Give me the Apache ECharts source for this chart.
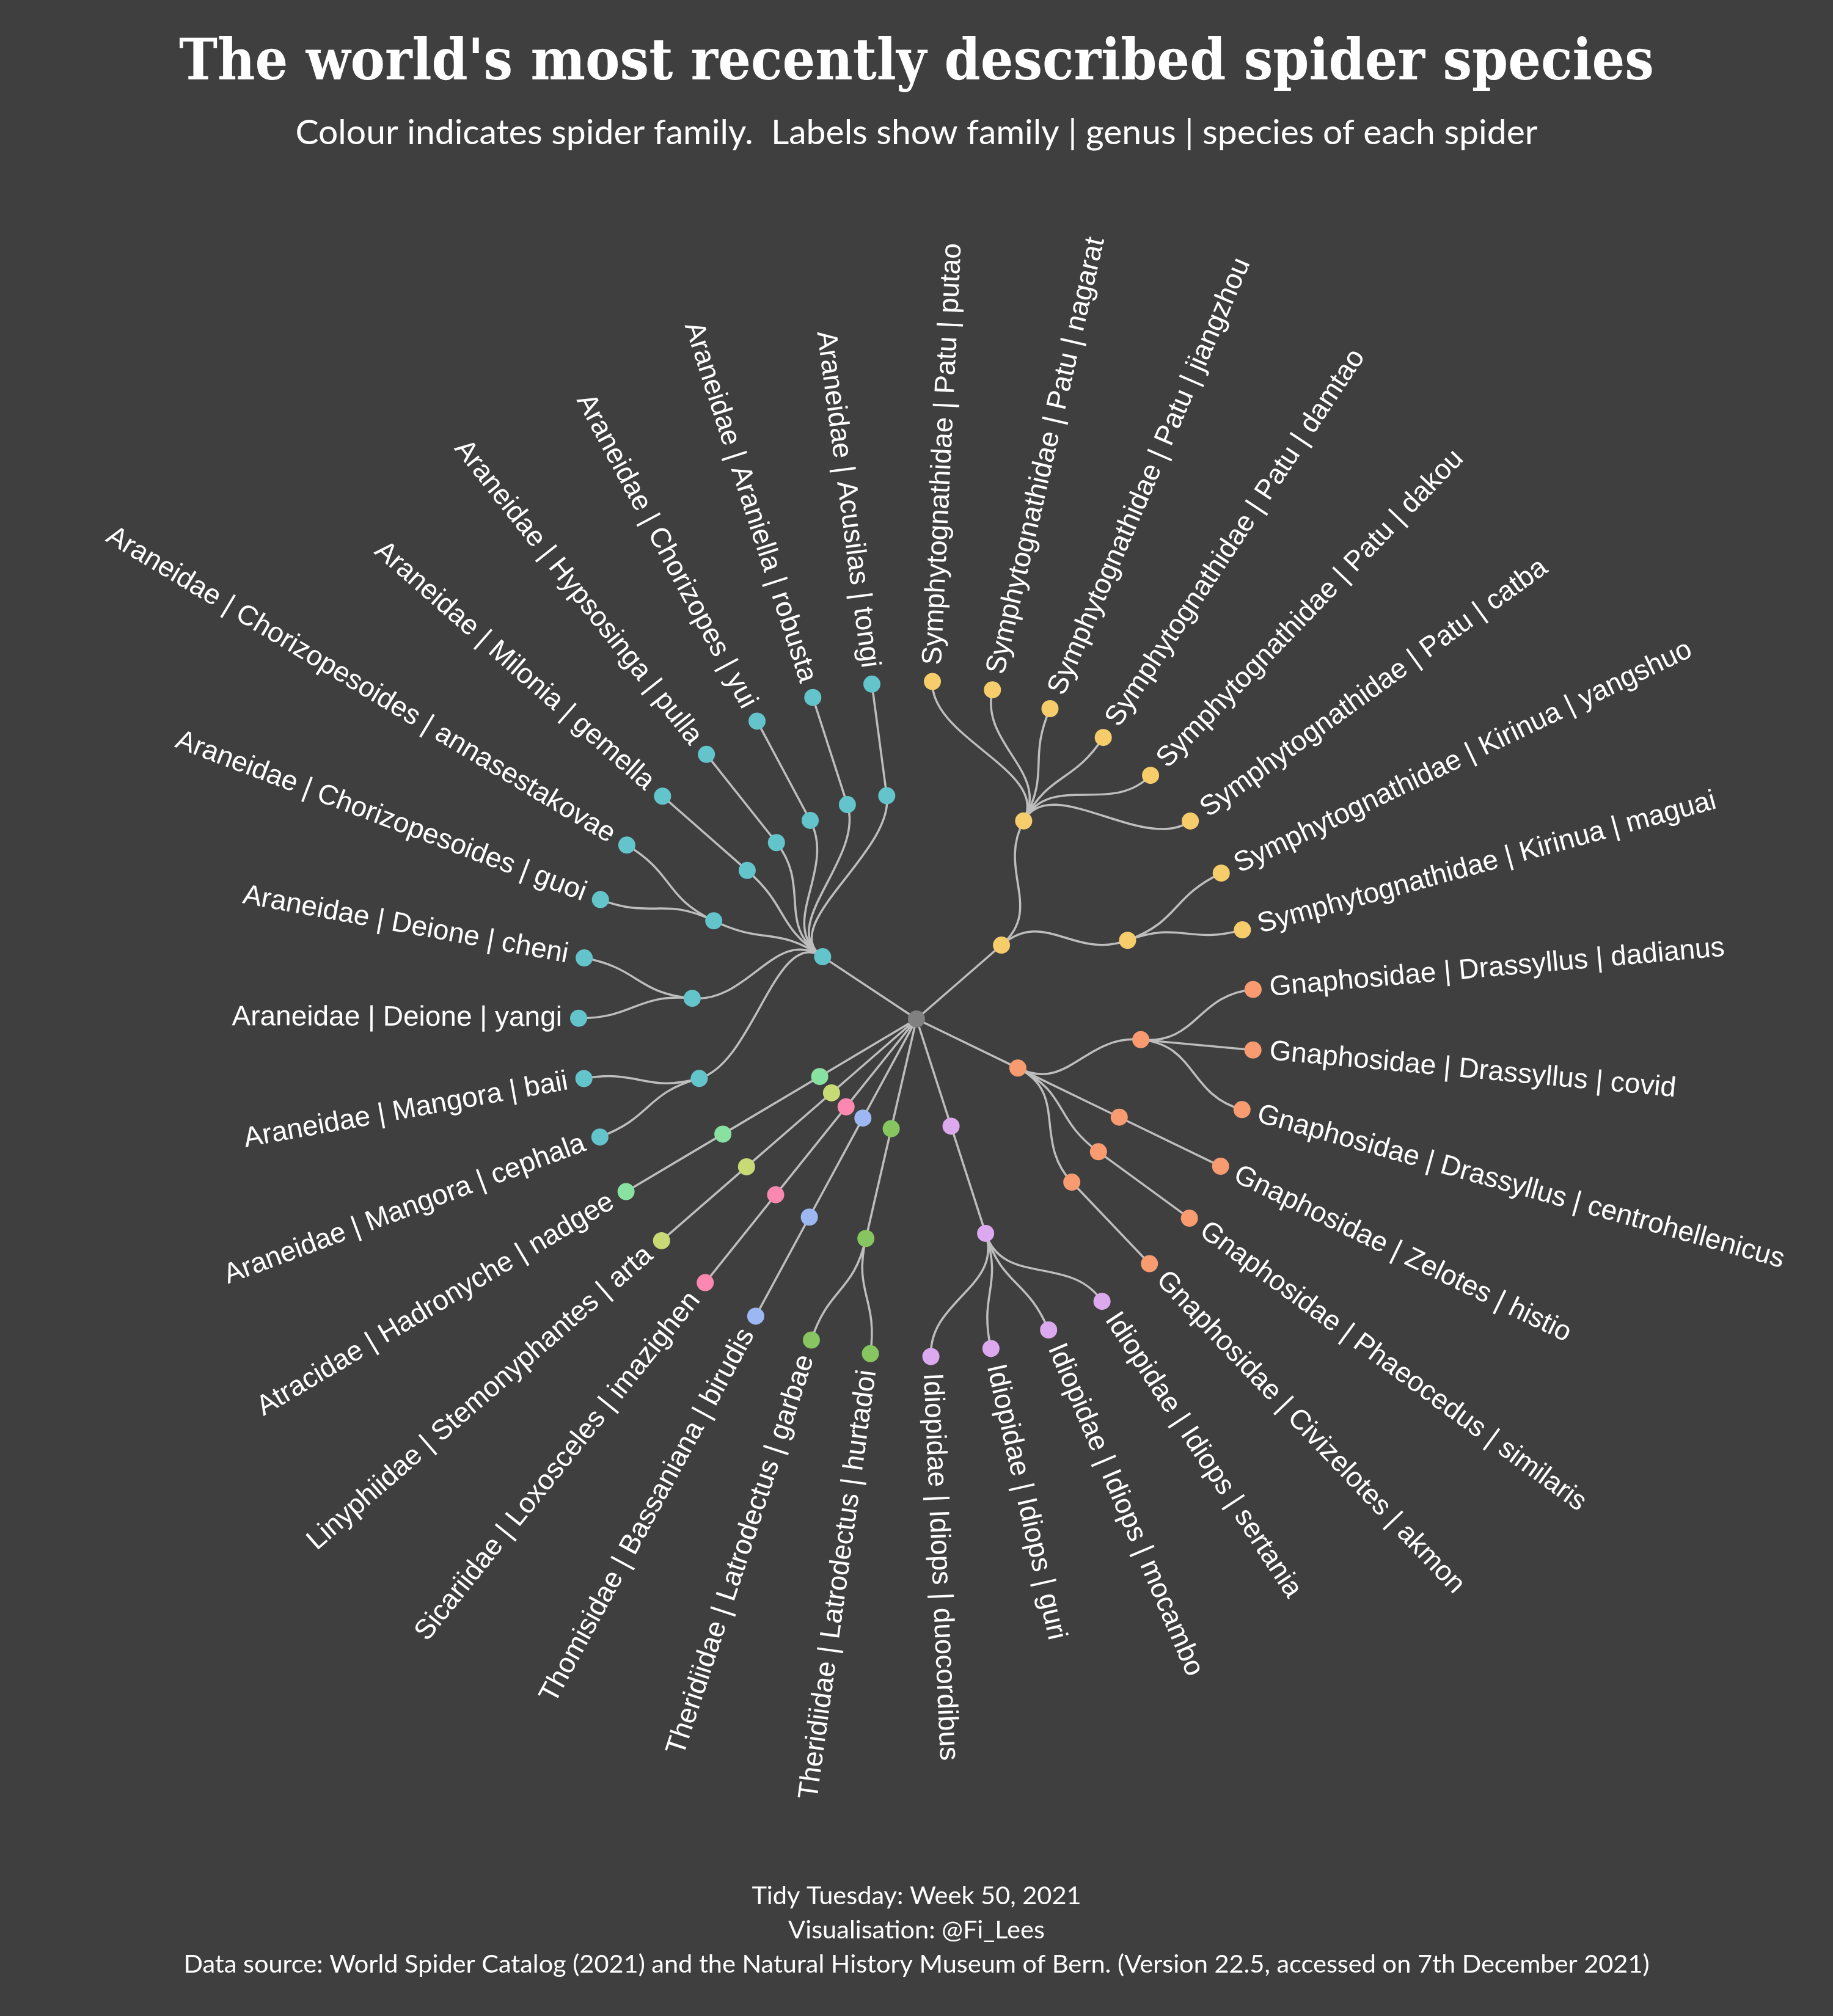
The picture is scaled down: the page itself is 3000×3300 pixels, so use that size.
<!DOCTYPE html>
<html>
<head>
<meta charset="utf-8">
<title>The world's most recently described spider species</title>
<script src="https://cdn.jsdelivr.net/npm/echarts@6/dist/echarts.min.js"></script>
<style>
html, body { margin: 0; padding: 0; background: #3f3f3f; }
#chart { width: 3000px; height: 3300px; }
</style>
</head>
<body>
<div id="chart"></div>
<script>
// families in the order they sit round the circle, with their colours
var families = ['Symphytognathidae', 'Gnaphosidae', 'Idiopidae', 'Theridiidae', 'Thomisidae',
	'Sicariidae', 'Linyphiidae', 'Atracidae', 'Araneidae']
var family_colours = ['#f6cd6a', '#f89b70', '#dca8ee', '#86c55f', '#9db7f2',
	'#fb88b0', '#c8da76', '#88e0a1', '#63c4cc']

// one entry per spider, clockwise from the top
var leaf_family = [
	'Symphytognathidae', 'Symphytognathidae', 'Symphytognathidae', 'Symphytognathidae',
	'Symphytognathidae', 'Symphytognathidae', 'Symphytognathidae', 'Symphytognathidae',
	'Gnaphosidae', 'Gnaphosidae', 'Gnaphosidae', 'Gnaphosidae', 'Gnaphosidae', 'Gnaphosidae',
	'Idiopidae', 'Idiopidae', 'Idiopidae', 'Idiopidae',
	'Theridiidae', 'Theridiidae', 'Thomisidae', 'Sicariidae', 'Linyphiidae', 'Atracidae',
	'Araneidae', 'Araneidae', 'Araneidae', 'Araneidae', 'Araneidae', 'Araneidae',
	'Araneidae', 'Araneidae', 'Araneidae', 'Araneidae', 'Araneidae'
]
var leaf_genus = [
	'Patu', 'Patu', 'Patu', 'Patu', 'Patu', 'Patu', 'Kirinua', 'Kirinua',
	'Drassyllus', 'Drassyllus', 'Drassyllus', 'Zelotes', 'Phaeocedus', 'Civizelotes',
	'Idiops', 'Idiops', 'Idiops', 'Idiops',
	'Latrodectus', 'Latrodectus', 'Bassaniana', 'Loxosceles', 'Stemonyphantes', 'Hadronyche',
	'Mangora', 'Mangora', 'Deione', 'Deione', 'Chorizopesoides', 'Chorizopesoides',
	'Milonia', 'Hypsosinga', 'Chorizopes', 'Araniella', 'Acusilas'
]
var leaf_species = [
	'putao', 'nagarat', 'jiangzhou', 'damtao', 'dakou', 'catba', 'yangshuo', 'maguai',
	'dadianus', 'covid', 'centrohellenicus', 'histio', 'similaris', 'akmon',
	'sertania', 'mocambo', 'guri', 'duocordibus',
	'hurtadoi', 'garbae', 'birudis', 'imazighen', 'arta', 'nadgee',
	'cephala', 'baii', 'yangi', 'cheni', 'guoi', 'annasestakovae',
	'gemella', 'pulla', 'yui', 'robusta', 'tongi'
]

var title_text = "The world's most recently described spider species"
var subtitle_text = 'Colour indicates spider family.  Labels show family | genus | species of each spider'
var caption_lines = [
	'Tidy Tuesday: Week 50, 2021',
	'Visualisation: @Fi_Lees',
	'Data source: World Spider Catalog (2021) and the Natural History Museum of Bern. (Version 22.5, accessed on 7th December 2021)'
]

var EDGE = '#bebebe'
var ROOT_COLOUR = '#808080'
var N = leaf_species.length

function colour_of (family) {
	return family_colours[families.indexOf(family)]
}

// build the hierarchy: depth 0 root, 1 family, 2 genus, 3 species
function build_tree () {
	var genera = [], fams = [], i, g, f

	for (i = 0; i < N; i++) {
		g = genera[genera.length - 1]
		if (!g || g.genus !== leaf_genus[i] || g.family !== leaf_family[i]) {
			g = {family: leaf_family[i], genus: leaf_genus[i], first: i, last: i}
			genera.push(g)
		}
		g.last = i
	}
	genera.forEach(function (g) {
		g.angle = (g.first + g.last) / 2
		f = fams[fams.length - 1]
		if (!f || f.family !== g.family) {
			f = {family: g.family, genera: []}
			fams.push(f)
		}
		f.genera.push(g)
	})
	fams.forEach(function (f) {
		f.angle = (f.genera[0].angle + f.genera[f.genera.length - 1].angle) / 2
	})
	return {genera: genera, families: fams}
}

var tree = build_tree()

var nodes = [{value: [0, 0], itemStyle: {color: ROOT_COLOUR}}]
var edges = []

tree.families.forEach(function (f) {
	nodes.push({value: [1, f.angle], itemStyle: {color: colour_of(f.family)}})
	edges.push([0, f.angle, 1, f.angle])
})
tree.genera.forEach(function (g) {
	var f = tree.families.filter(function (x) { return x.family === g.family })[0]
	nodes.push({value: [2, g.angle], itemStyle: {color: colour_of(g.family)}})
	edges.push([1, f.angle, 2, g.angle])
})
var leaves = []
for (var i = 0; i < N; i++) {
	nodes.push({value: [3, i], itemStyle: {color: colour_of(leaf_family[i])}})
	var g = tree.genera.filter(function (x) { return x.first <= i && x.last >= i })[0]
	edges.push([2, g.angle, 3, i])
	leaves.push([3, i])
}

function render_edge (params, api) {
	var r0 = api.value(0), a0 = api.value(1), r1 = api.value(2), a1 = api.value(3)
	var p0 = api.coord([r0, a0]), p1 = api.coord([r1, a1])
	var style = {stroke: EDGE, lineWidth: 3.5, fill: null}

	if (r0 === 0 || a0 === a1) {
		return {type: 'line', shape: {x1: p0[0], y1: p0[1], x2: p1[0], y2: p1[1]}, style: style}
	}
	var rm = (r0 + r1) / 2
	var c0 = api.coord([rm, a0]), c1 = api.coord([rm, a1])
	return {
		type: 'bezierCurve',
		shape: {x1: p0[0], y1: p0[1], x2: p1[0], y2: p1[1],
			cpx1: c0[0], cpy1: c0[1], cpx2: c1[0], cpy2: c1[1]},
		style: style
	}
}

function render_label (params, api) {
	var i = params.dataIndex
	var p = api.coord([api.value(0), api.value(1)])
	var cx = params.coordSys.cx, cy = params.coordSys.cy
	var dx = p[0] - cx, dy = p[1] - cy
	var len = Math.sqrt(dx * dx + dy * dy)
	var ux = dx / len, uy = dy / len
	var phi = Math.atan2(dx, -dy) * 180 / Math.PI
	if (phi < 0) phi += 360
	var right = phi < 180
	var rot = right ? 90 - phi : 270 - phi
	var gap = 27
	return {
		type: 'text',
		x: p[0] + ux * gap,
		y: p[1] + uy * gap,
		rotation: rot * Math.PI / 180,
		style: {
			text: leaf_family[i] + ' | ' + leaf_genus[i] + ' | ' + leaf_species[i],
			fill: '#ffffff',
			fontSize: 46,
			fontFamily: 'Liberation Sans',
			align: right ? 'left' : 'right',
			verticalAlign: 'middle'
		}
	}
}

var chart = echarts.init(document.getElementById('chart'), null, {renderer: 'canvas'})

var titles = [
	{
		text: title_text, left: 'center', top: 59, padding: 0,
		textStyle: {color: '#ffffff', fontSize: 94, lineHeight: 94, fontWeight: 'bold',
			fontFamily: "'DejaVu Serif Condensed', 'DejaVu Serif'"}
	},
	{
		text: subtitle_text, left: 'center', top: 189, padding: 0,
		textStyle: {color: '#ffffff', fontSize: 57, lineHeight: 57, fontWeight: 'normal', fontFamily: 'Lato'}
	}
]
caption_lines.forEach(function (line, k) {
	titles.push({
		text: line, left: 'center', top: 3083 + k * 56, padding: 0,
		textStyle: {color: '#ffffff', fontSize: 41.5, lineHeight: 42, fontWeight: 'normal', fontFamily: 'Lato'}
	})
})

chart.setOption({
	backgroundColor: '#3f3f3f',
	animation: false,
	title: titles,
	polar: {center: [1500, 1668], radius: 553},
	angleAxis: {
		type: 'value', min: 0, max: N, startAngle: 87.3, clockwise: true,
		axisLine: {show: false}, axisTick: {show: false}, axisLabel: {show: false}, splitLine: {show: false}
	},
	radiusAxis: {
		type: 'value', min: 0, max: 3,
		axisLine: {show: false}, axisTick: {show: false}, axisLabel: {show: false}, splitLine: {show: false}
	},
	series: [
		{
			type: 'custom', coordinateSystem: 'polar', z: 1,
			dimensions: ['r0', 'a0', 'r1', 'a1'],
			encode: {radius: 0, angle: 1},
			renderItem: render_edge,
			data: edges,
			silent: true
		},
		{
			type: 'scatter', coordinateSystem: 'polar', z: 2,
			symbolSize: 28,
			itemStyle: {opacity: 1},
			data: nodes,
			silent: true
		},
		{
			type: 'custom', coordinateSystem: 'polar', z: 3,
			renderItem: render_label,
			data: leaves,
			silent: true
		}
	]
})
</script>
</body>
</html>
